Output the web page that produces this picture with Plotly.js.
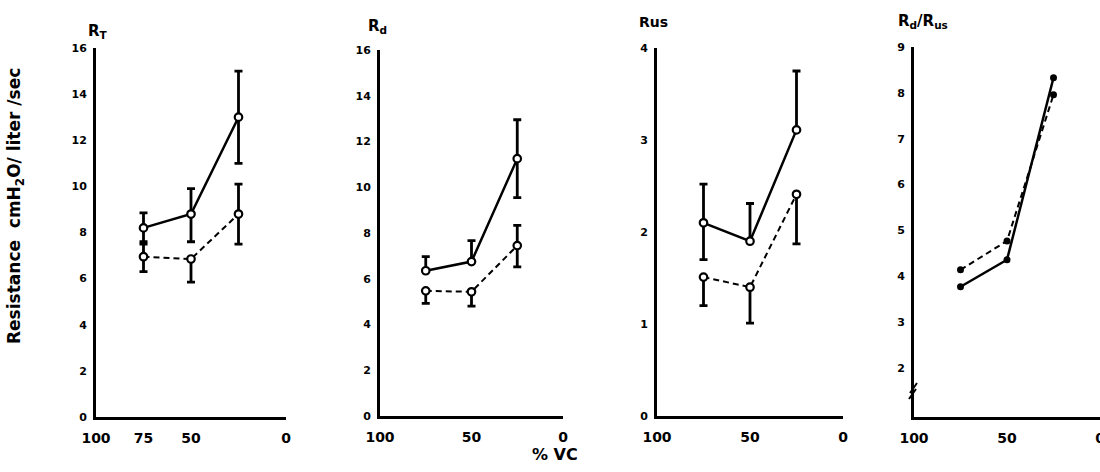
<!DOCTYPE html>
<html>
<head>
<meta charset="utf-8">
<script src="https://cdn.plot.ly/plotly-3.0.1.min.js"></script>
<style>html,body{margin:0;padding:0;background:#fff;}#chart{width:1100px;height:472px;}</style>
</head>
<body>
<div id="chart"></div>
<script>
// ---- data ----
const vc = [75, 50, 25];

const RT_solid = [8.2, 8.8, 13.0];
const RT_solid_up = [0.65, 1.1, 2.0];
const RT_solid_dn = [0.6, 1.2, 2.0];
const RT_dash = [6.95, 6.85, 8.8];
const RT_dash_up = [0.55, 0, 1.3];
const RT_dash_dn = [0.65, 1.0, 1.3];

const Rd_solid = [6.35, 6.75, 11.25];
const Rd_solid_up = [0.62, 0.92, 1.7];
const Rd_solid_dn = [0, 0, 1.7];
const Rd_dash = [5.47, 5.43, 7.45];
const Rd_dash_up = [0, 0, 0.88];
const Rd_dash_dn = [0.55, 0.63, 0.93];

const Rus_solid = [2.1, 1.9, 3.11];
const Rus_solid_up = [0.42, 0.41, 0.64];
const Rus_solid_dn = [0.4, 0, 0];
const Rus_dash = [1.51, 1.4, 2.41];
const Rus_dash_up = [0, 0, 0];
const Rus_dash_dn = [0.31, 0.39, 0.54];

const Ratio_solid = [3.77, 4.36, 8.33];
const Ratio_dash = [4.14, 4.77, 7.96];

const xticks1 = [100, 75, 50, 0];
const xticks = [100, 50, 0];
const yticks16 = [0, 2, 4, 6, 8, 10, 12, 14, 16];
const yticks4 = [0, 1, 2, 3, 4];
const yticks9 = [2, 3, 4, 5, 6, 7, 8, 9];

const panelTitles = ['R<sub>T</sub>', 'R<sub>d</sub>', 'Rus', 'R<sub>d</sub>/R<sub>us</sub>'];

// ---- styling helpers ----
const FONT = 'DejaVu Sans, Arial, sans-serif';
function openMarker() { return {symbol: 'circle', size: 7.5, color: '#fff', line: {color: '#000', width: 2.2}}; }
function err(up, dn) { return {type: 'data', symmetric: false, array: up, arrayminus: dn, color: '#000', thickness: 2.8, width: 4}; }
function series(y, up, dn, dashed, xa, ya) {
  return {
    x: vc, y: y, xaxis: xa, yaxis: ya, type: 'scatter', mode: 'lines+markers',
    line: {color: '#000', width: dashed ? 2 : 2.5, dash: dashed ? '6px,4px' : 'solid'},
    marker: openMarker(),
    error_y: up ? err(up, dn) : undefined,
    showlegend: false, hoverinfo: 'skip', cliponaxis: false
  };
}

const traces = [
  series(RT_solid, RT_solid_up, RT_solid_dn, false, 'x', 'y'),
  series(RT_dash, RT_dash_up, RT_dash_dn, true, 'x', 'y'),
  series(Rd_solid, Rd_solid_up, Rd_solid_dn, false, 'x2', 'y2'),
  series(Rd_dash, Rd_dash_up, Rd_dash_dn, true, 'x2', 'y2'),
  series(Rus_solid, Rus_solid_up, Rus_solid_dn, false, 'x3', 'y3'),
  series(Rus_dash, Rus_dash_up, Rus_dash_dn, true, 'x3', 'y3'),
];
const rs = series(Ratio_solid, null, null, false, 'x4', 'y4');
rs.marker = {symbol: 'circle', size: 7, color: '#000'};
const rd = series(Ratio_dash, null, null, true, 'x4', 'y4');
rd.marker = {symbol: 'circle', size: 7, color: '#000'};
traces.push(rs, rd);

function xax(dom, ticks, anchor) {
  return {domain: dom, range: [100, 0], anchor: anchor, tickmode: 'array', tickvals: ticks,
    ticktext: ticks.map(String), showline: true, linewidth: 3, linecolor: '#000', showgrid: false,
    zeroline: false, ticks: '', ticklabelstandoff: 6, ticklabeloverflow: 'allow',
    tickfont: {family: FONT, size: 14, color: '#000', weight: 'bold'}, fixedrange: true};
}
function yax(dom, range, ticks, anchor) {
  return {domain: dom, range: range, anchor: anchor, tickmode: 'array', tickvals: ticks,
    ticktext: ticks.map(String), showline: true, linewidth: 3, linecolor: '#000', showgrid: false,
    zeroline: false, ticks: '', ticklabelstandoff: 4,
    tickfont: {family: FONT, size: 11, color: '#000', weight: 'bold'}, fixedrange: true};
}

const W = 1100, H = 472;
const px = v => v / W, py = v => 1 - v / H;

const layout = {
  width: W, height: H,
  margin: {l: 0, r: 0, t: 0, b: 0},
  paper_bgcolor: '#fff', plot_bgcolor: '#fff',
  showlegend: false,
  xaxis: xax([px(96), px(286)], xticks1, 'y'),
  yaxis: yax([py(417), py(48)], [0, 16], yticks16, 'x'),
  xaxis2: xax([px(380), px(563)], xticks, 'y2'),
  yaxis2: yax([py(416), py(50)], [0, 16], yticks16, 'x2'),
  xaxis3: xax([px(657), px(843)], xticks, 'y3'),
  yaxis3: yax([py(416), py(48)], [0, 4], yticks4, 'x3'),
  xaxis4: xax([px(914), px(1100)], xticks, 'y4'),
  yaxis4: yax([py(417), py(47)], [0.93, 9], yticks9, 'x4'),
  annotations: [
    {text: panelTitles[0], x: px(86), y: py(31), xref: 'paper', yref: 'paper', xanchor: 'left', yanchor: 'middle', showarrow: false, font: {family: FONT, size: 15, color: '#000', weight: 'bold'}},
    {text: panelTitles[1], x: px(366), y: py(27), xref: 'paper', yref: 'paper', xanchor: 'left', yanchor: 'middle', showarrow: false, font: {family: FONT, size: 15, color: '#000', weight: 'bold'}},
    {text: panelTitles[2], x: px(637), y: py(22), xref: 'paper', yref: 'paper', xanchor: 'left', yanchor: 'middle', showarrow: false, font: {family: FONT, size: 14, color: '#000', weight: 'bold'}},
    {text: panelTitles[3], x: px(896), y: py(22), xref: 'paper', yref: 'paper', xanchor: 'left', yanchor: 'middle', showarrow: false, font: {family: FONT, size: 15, color: '#000', weight: 'bold'}},
    {text: 'Resistance  cmH<sub>2</sub>O/ liter /sec', x: px(16), y: py(206), xref: 'paper', yref: 'paper', xanchor: 'center', yanchor: 'middle', textangle: -90, showarrow: false, font: {family: FONT, size: 17, color: '#000', weight: 'bold'}},
    {text: '% VC', x: px(555), y: py(454), xref: 'paper', yref: 'paper', xanchor: 'center', yanchor: 'middle', showarrow: false, font: {family: FONT, size: 16, color: '#000', weight: 'bold'}}
  ],
  shapes: [
    {type: 'line', xref: 'paper', yref: 'paper', x0: px(910), y0: py(393), x1: px(917), y1: py(383), line: {color: '#000', width: 2}},
    {type: 'line', xref: 'paper', yref: 'paper', x0: px(909), y0: py(399), x1: px(916), y1: py(389), line: {color: '#000', width: 2}}
  ]
};

Plotly.newPlot('chart', traces, layout, {displayModeBar: false, staticPlot: true});
</script>
</body>
</html>
